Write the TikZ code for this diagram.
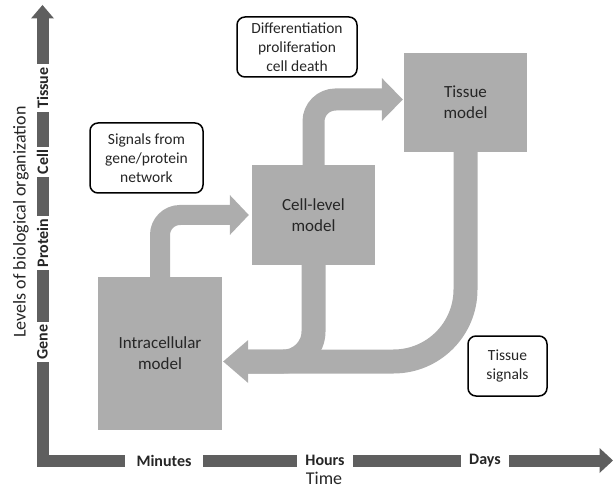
\documentclass[tikz,border=0pt]{standalone}
\usepackage{fontspec}
\setmainfont{Carlito}
\usetikzlibrary{calc}
\pgfdeclarelayer{bg}
\pgfsetlayers{bg,main}
\definecolor{band}{RGB}{173,173,173}
\definecolor{axisc}{RGB}{95,95,95}
\definecolor{txt}{RGB}{38,38,38}
\begin{document}
\begin{tikzpicture}[x=1pt,y=-1pt,
  model/.style={fill=band, draw=none, inner sep=0pt, text=txt,
    font=\fontsize{17}{21}\selectfont, align=center},
  callout/.style={draw=black, line width=1.5pt, rounded corners=8pt, fill=white,
    inner sep=0pt, text=txt, font=\fontsize{15.5}{19}\selectfont, align=center},
  flow/.style={draw=band, line width=#1},
  headfill/.style={fill=band},
  axisline/.style={draw=axisc, line width=12pt, line join=miter},
  vlabel/.style={fill=white, rotate=90, inner xsep=3pt, inner ysep=0pt, minimum height=15pt,
    font=\fontsize{16}{18}\selectfont\bfseries, text=black!85},
  hlabel/.style={fill=white, inner xsep=8pt, inner ysep=0pt, minimum height=15pt,
    font=\fontsize{16}{18}\selectfont\bfseries, text=black!85},
  axtitle/.style={text=txt, font=\fontsize{18}{20}\selectfont, inner sep=0pt}
]
\useasboundingbox (0,0) rectangle (613,489);

% model boxes
\node[model, minimum width=124pt, minimum height=153pt] (intra) at (160,353.5) {Intracellular\\model};
\node[model, minimum width=123pt, minimum height=100pt] (cell) at (313.5,215) {Cell-level\\model};
\node[model, minimum width=123pt, minimum height=99pt] (tissue) at (465.5,102.5) {Tissue\\model};

% callouts
\node[callout, minimum width=113pt, minimum height=70pt] (signals) at (146.5,158) {Signals from\\gene/protein\\network};
\node[callout, minimum width=120pt, minimum height=60pt] (diff) at (297,47) {Differentiation\\proliferation\\cell death};
\node[callout, minimum width=79pt, minimum height=60pt] (tsig) at (507.5,366) {Tissue\\signals};

% flow arrows
\coordinate (a2) at ($(tissue.west)+(0,-3)$);
\coordinate (a3) at ($(intra.east)+(0,8)$);
\begin{pgfonlayer}{bg}
  % intracellular -> cell
  \draw[flow=20pt, rounded corners=20pt] (intra.north) -- (intra.north |- cell.west) -- ($(cell.west)+(-21,0)$);
  \fill[headfill] ($(cell.west)+(-22,-20)$) -- ($(cell.west)+(-3,0)$) -- ($(cell.west)+(-22,20)$) -- cycle;
  % cell -> tissue
  \draw[flow=22pt, rounded corners=22pt] (cell.north) -- (cell.north |- a2) -- ($(a2)+(-21,0)$);
  \fill[headfill] ($(a2)+(-22,-21.5)$) -- ($(a2)+(-1,0)$) -- ($(a2)+(-22,21.5)$) -- cycle;
  % cell -> intracellular
  \draw[flow=24pt, rounded corners=30pt] (cell.south) -- (cell.south |- a3) -- ($(a3)+(25,0)$);
  % tissue -> intracellular
  \draw[flow=24pt, rounded corners=72pt] (tissue.south) -- (tissue.south |- a3) -- ($(a3)+(25,0)$);
  \fill[headfill] ($(a3)+(26,-21.5)$) -- ($(a3)+(1,0)$) -- ($(a3)+(26,21.5)$) -- cycle;
\end{pgfonlayer}

% axes
\coordinate (ytop) at (42.5,18);
\coordinate (origin) at (42.5,460.5);
\coordinate (xend) at (600,460.5);
\draw[axisline] (ytop) -- (origin) -- (xend);
\fill[axisc] ($(ytop)+(-11.5,0.5)$) -- ($(ytop)+(0,-13)$) -- ($(ytop)+(11.5,0.5)$) -- cycle;
\fill[axisc] ($(xend)+(-0.5,-12.5)$) -- ($(xend)+(13,0)$) -- ($(xend)+(-0.5,12.5)$) -- cycle;

\node[vlabel] (lgene) at (42.5,342) {Gene};
\node[vlabel] (lprot) at (42.5,243) {Protein};
\node[vlabel] (lcell) at (42.5,162) {Cell};
\node[vlabel] (ltis) at (42.5,88) {Tissue};

\node[hlabel, inner xsep=12pt] (lmin) at (164,460.5) {Minutes};
\node[hlabel] (lhrs) at (325,460.5) {Hours};
\node[hlabel] (ldays) at (485,460.5) {Days};

\node[axtitle, rotate=90] (ylab) at (21,222) {Levels of biological organization};
\node[axtitle] (xlab) at (324,478) {Time};
\end{tikzpicture}
\end{document}
